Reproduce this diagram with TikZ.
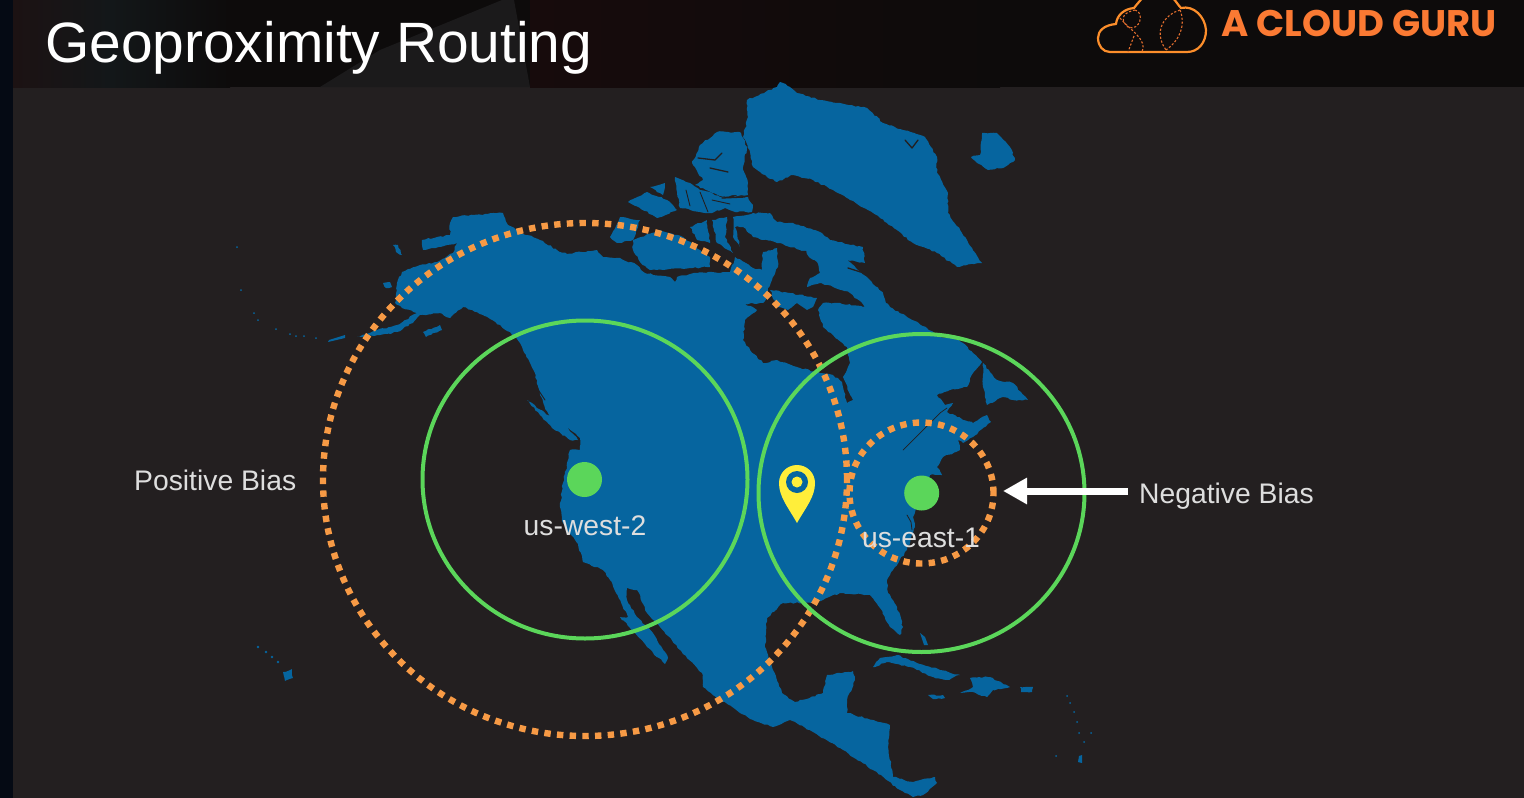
\documentclass[tikz,border=0pt]{standalone}
\usepackage{fontspec}
\setmainfont{Liberation Sans}
\newfontfamily\logofont{Poppins}
\usetikzlibrary{decorations.pathmorphing,arrows.meta}
\definecolor{bgdark}{HTML}{231F20}
\definecolor{band}{HTML}{0D0B0B}
\definecolor{bandblue}{HTML}{131719}
\definecolor{bandgrey}{HTML}{1B1A1B}
\definecolor{bandred}{HTML}{170B0C}
\definecolor{bandmaroon}{HTML}{1C1213}
\definecolor{edgenavy}{HTML}{050A14}
\definecolor{landblue}{HTML}{06659F}
\definecolor{ringgreen}{HTML}{5BD65A}
\definecolor{dotorange}{HTML}{F79A45}
\definecolor{logoorange}{HTML}{FB7A33}
\definecolor{pinyellow}{HTML}{FFEE3A}
\definecolor{labelgrey}{HTML}{DEDEDE}
\tikzset{
  land/.style={fill=landblue,decorate,decoration={random steps,segment length=3pt,amplitude=0.8pt}},
  speck/.style={fill=landblue},
  water/.style={draw=bgdark,line width=1.3pt,line cap=round,line join=round},
  greenring/.style={draw=ringgreen,line width=4pt},
  orangering/.style={draw=dotorange,line width=6.4pt,dash pattern=on 6.4pt off 6.3pt},
  regiondot/.style={circle,fill=ringgreen,minimum size=35pt,inner sep=0pt},
  label/.style={text=labelgrey,font=\fontsize{28.3}{30}\selectfont,anchor=base,inner sep=0pt},
  logoline/.style={draw=logoorange!85!yellow,line width=2.2pt},
  logodash/.style={draw=logoorange!90!black,line width=1.1pt,dash pattern=on 2.2pt off 1.8pt}
}
\begin{document}
\begin{tikzpicture}[x=1pt,y=-1pt]
\pgfmathsetseed{7}
\useasboundingbox (0,0) rectangle (1524,798);
% backdrop
\fill[bgdark] (0,0) rectangle (1524,798);
\fill[band] (0,0) rectangle (1524,87);
\shade[left color=bandmaroon,right color=bandblue] (13,0) rectangle (110,87);
\shade[left color=bandblue,right color=band] (110,0) rectangle (230,87);
\fill[bandgrey] (320,87) -- (380,50) -- (502,0) -- (514,0) -- (530,87) -- cycle;
\shade[left color=bandred,right color=band] (530,0) rectangle (1000,87);
\fill[edgenavy] (0,0) rectangle (13,798);
% mainland
\fill[land] (450,223) -- (453,217) -- (473,215) -- (503,213) -- (508,225) -- (520,232) -- (540,240) -- (557,250) -- (567,254) -- (597,250) -- (603,257) -- (620,258) -- (637,265) -- (645,273) -- (670,277) -- (675,282) -- (677,277) -- (697,273) -- (712,272) -- (720,273) -- (730,272) -- (735,257) -- (753,268) -- (762,270) -- (763,252) -- (777,248) -- (778,267) -- (772,280) -- (768,288) -- (767,298) -- (763,303) -- (745,304) -- (757,310) -- (745,320) -- (743,340) -- (750,350) -- (763,363) -- (777,360) -- (800,368) -- (820,373) -- (833,375) -- (842,382) -- (847,403) -- (853,400) -- (843,377) -- (850,363) -- (847,347) -- (833,335) -- (823,327) -- (818,310) -- (823,303) -- (840,303) -- (863,307) -- (887,303) -- (890,307) -- (907,317) -- (927,328) -- (940,337) -- (953,338) -- (963,343) -- (982,362) -- (973,373) -- (967,387) -- (950,390) -- (937,395) -- (945,405) -- (953,403) -- (947,412) -- (957,417) -- (973,423) -- (987,415) -- (991,422) -- (973,437) -- (963,443) -- (958,440) -- (960,450) -- (943,457) -- (937,467) -- (942,475) -- (930,475) -- (922,497) -- (920,500) -- (913,517) -- (915,527) -- (907,550) -- (893,570) -- (887,580) -- (888,593) -- (897,607) -- (903,627) -- (900,635) -- (890,627) -- (880,608) -- (870,595) -- (840,593) -- (823,600) -- (812,603) -- (783,603) -- (767,618) -- (765,647) -- (773,670) -- (782,693) -- (795,702) -- (823,693) -- (827,675) -- (853,671) -- (855,680) -- (847,700) -- (847,713) -- (890,725) -- (888,747) -- (893,777) -- (913,782) -- (935,777) -- (937,783) -- (923,795) -- (913,797) -- (900,790) -- (873,770) -- (840,748) -- (813,732) -- (790,720) -- (773,727) -- (753,720) -- (720,700) -- (703,687) -- (702,673) -- (680,650) -- (660,627) -- (647,613) -- (637,590) -- (627,588) -- (627,600) -- (637,617) -- (653,633) -- (668,658) -- (665,664) -- (647,647) -- (630,628) -- (620,617) -- (628,617) -- (610,580) -- (603,570) -- (583,562) -- (577,543) -- (563,523) -- (560,507) -- (563,483) -- (568,460) -- (570,450) -- (580,450) -- (580,438) -- (568,428) -- (553,425) -- (540,395) -- (535,373) -- (520,343) -- (510,332) -- (483,315) -- (472,310) -- (463,307) -- (450,318) -- (440,313) -- (420,315) -- (413,323) -- (397,332) -- (380,335) -- (363,337) -- (357,337) -- (377,330) -- (397,325) -- (417,313) -- (402,308) -- (395,303) -- (397,283) -- (402,272) -- (420,265) -- (437,262) -- (453,253) -- (457,243) -- (447,245) -- (423,250) -- (422,240) -- (437,237) -- (450,235) -- cycle;
% Greenland
\fill[land] (780,82) -- (777,87) -- (747,100) -- (748,117) -- (743,137) -- (750,152) -- (753,167) -- (767,177) -- (777,182) -- (793,175) -- (813,180) -- (833,190) -- (850,200) -- (873,213) -- (887,223) -- (913,243) -- (937,253) -- (957,267) -- (982,263) -- (967,240) -- (948,213) -- (948,193) -- (937,173) -- (937,157) -- (925,137) -- (903,130) -- (883,123) -- (867,108) -- (840,103) -- (820,100) -- (797,93) -- (783,83) -- cycle;
% Iceland
\fill[land] (982,133) -- (997,133) -- (1010,147) -- (1015,160) -- (1003,168) -- (988,170) -- (977,163) -- (971,157) -- (980,155) -- cycle;
% Arctic islands
\fill[land] (740,132) -- (717,132) -- (700,145) -- (692,163) -- (703,180) -- (695,185) -- (720,196) -- (748,195) -- (748,183) -- (743,167) -- (747,147) -- cycle;
\fill[land] (675,177) -- (690,183) -- (700,190) -- (712,193) -- (720,197) -- (748,197) -- (753,205) -- (752,212) -- (735,212) -- (725,208) -- (712,213) -- (700,212) -- (680,208) -- (677,192) -- cycle;
\fill[land] (628,202) -- (647,192) -- (667,200) -- (677,210) -- (657,218) -- (640,208) -- cycle;
\fill[land] (650,187) -- (665,183) -- (663,195) -- cycle;
\fill[land] (610,237) -- (620,217) -- (640,220) -- (633,240) -- (617,243) -- cycle;
\fill[land] (633,240) -- (660,230) -- (683,237) -- (700,250) -- (710,257) -- (710,267) -- (690,268) -- (663,270) -- (650,270) -- (640,262) -- (633,250) -- cycle;
\fill[land] (690,227) -- (707,220) -- (710,243) -- (697,240) -- cycle;
\fill[land] (712,220) -- (727,217) -- (725,237) -- (733,253) -- (717,243) -- cycle;
\fill[land] (733,217) -- (753,213) -- (770,213) -- (777,222) -- (793,223) -- (820,232) -- (830,240) -- (863,247) -- (865,263) -- (847,260) -- (867,277) -- (883,293) -- (890,313) -- (887,325) -- (873,313) -- (850,293) -- (833,287) -- (820,283) -- (807,287) -- (810,278) -- (820,273) -- (817,262) -- (800,250) -- (780,243) -- (763,240) -- (753,237) -- (743,227) -- (735,227) -- (740,247) -- (733,237) -- cycle;
\fill[land] (770,290) -- (790,293) -- (817,298) -- (813,307) -- (807,310) -- (797,303) -- (788,310) -- (777,307) -- cycle;
\fill[land] (983,363) -- (997,380) -- (1013,383) -- (1028,400) -- (1013,400) -- (1003,397) -- (987,405) -- (983,387) -- cycle;
% Alaska and Pacific islands
\fill[land] (423,332) -- (440,325) -- (442,330) -- (426,337) -- cycle;
\fill[land] (393,245) -- (398,245) -- (402,255) -- (396,252) -- cycle;
\fill[land] (383,283) -- (390,282) -- (392,287) -- (386,288) -- cycle;
\fill[speck] (329,340) -- (345,335) -- (345,338) -- (328,342) -- cycle;
\foreach \sx/\sy in {237/247,241/290,254/313,258/320,276/329,290/334,296/336,304/336,316/338}{\fill[speck] (\sx,\sy) circle[radius=1pt];}
\fill[land] (283,672) -- (292,669) -- (293,678) -- (285,681) -- cycle;
\foreach \sx/\sy in {258/647,266/652,272/657,278/662}{\fill[speck] (\sx,\sy) circle[radius=1.3pt];}
\fill[land] (527,400) -- (548,415) -- (568,428) -- (578,440) -- (570,440) -- (552,428) -- cycle;
% Caribbean
\fill[land] (873,667) -- (880,658) -- (897,655) -- (917,663) -- (940,670) -- (960,675) -- (947,680) -- (933,677) -- (910,667) -- (887,662) -- (875,667) -- cycle;
\fill[land] (960,693) -- (973,687) -- (970,678) -- (990,677) -- (1010,687) -- (993,690) -- (987,697) -- (973,692) -- cycle;
\fill[land] (928,695) -- (943,695) -- (945,698) -- (933,699) -- cycle;
\fill[land] (1020,687) -- (1033,687) -- (1032,692) -- (1021,692) -- cycle;
\fill[speck] (920,633) -- (925,637) -- (928,645) -- (924,645) -- cycle;
\fill[speck] (1079,756) -- (1082,755) -- (1082,763) -- (1078,762) -- cycle;
\foreach \sx/\sy in {1067/696,1070/703,1074/712,1077/722,1079/733,1091/733,1056/756,1084/742}{\fill[speck] (\sx,\sy) circle[radius=1pt];}
% inland water
\draw[water,line width=.7pt] (903,450) -- (920,433) -- (940,413) -- (947,408);
\draw[water,line width=.8pt] (907,515) -- (911,522) -- (912,530);
\draw[water] (698,158) -- (715,160) -- (722,153);
\draw[water] (710,168) -- (728,172);
\draw[water] (722,198) -- (745,197);
\draw[water,line width=.9pt] (700,192) -- (708,212);
\draw[water,line width=.9pt] (686,190) -- (690,206);
\draw[water,line width=.9pt] (712,200) -- (730,204);
\draw[water] (905,140) -- (912,148) -- (918,140);
\draw[water] (848,268) -- (870,275);
\draw[bgdark,fill=bgdark] (800,251) -- (806,251) -- (807,258) -- (800,256) -- cycle;
\draw[water,line width=.9pt] (535,385) -- (545,400);
% rings
\draw[orangering] (585,479.5) ellipse [x radius=262pt,y radius=256.5pt];
\draw[orangering] (921.5,493) ellipse [x radius=72pt,y radius=70.5pt];
\draw[greenring] (585,479.5) ellipse [x radius=162.5pt,y radius=159pt];
\draw[greenring] (921.5,493) ellipse [x radius=163pt,y radius=159pt];
\node[regiondot] (west) at (584.5,479.5) {};
\node[regiondot] (east) at (921.7,493) {};
% pin
\fill[pinyellow] (797,523) .. controls (788,507) and (779,497) .. (779,483) .. controls (779,473) and (787,465) .. (797,465) .. controls (807,465) and (815,473) .. (815,483) .. controls (815,497) and (806,507) .. (797,523) -- cycle;
\fill[landblue] (797,482) circle[radius=11pt];
\fill[pinyellow] (797,482) circle[radius=5.5pt];
% labels
\node[label] (uswest) at (585,535) {us-west-2};
\node[label] (useast) at (921,547) {us-east-1};
\node[label,anchor=base west] (pos) at (134,490) {Positive Bias};
\node[label,anchor=base west,inner xsep=11pt] (neg) at (1128,503) {Negative Bias};
\coordinate (tip) at (1003,491);
\draw[white,line width=7pt,-{Triangle[length=24pt,width=25pt]}] (neg.west |- tip) -- (tip);
% title
\node[text=white,anchor=base west,inner sep=0pt,font=\fontsize{56.9}{60}\selectfont] (title) at (45,62) {Geoproximity Routing};
% logo
\node[text=logoorange,anchor=base west,inner sep=0pt,font=\logofont\bfseries\fontsize{37}{40}\selectfont] (brand) at (1221,36) {A CLOUD GURU};
\draw[logoline,line join=round] (1110,52) .. controls (1103,52) and (1098,46) .. (1098,38) .. controls (1098,31) and (1104,25) .. (1116,24) .. controls (1117,15) and (1124,9) .. (1134,8) .. controls (1137,4) and (1140,1) .. (1143,-3) -- (1172,-3) .. controls (1176,1) and (1178,5) .. (1181,8) .. controls (1194,5) and (1205,17) .. (1206,30) .. controls (1206,43) and (1198,52) .. (1187,52) -- cycle;
\draw[logodash] (1135,10) .. controls (1145,12) and (1140,32) .. (1128,27) .. controls (1118,18) and (1125,12) .. (1135,10);
\draw[logodash] (1120,18) .. controls (1130,30) and (1148,40) .. (1142,52);
\draw[logodash] (1134,36) -- (1128,52);
\draw[logodash] (1180,10) .. controls (1166,14) and (1152,30) .. (1166,50);
\draw[logodash] (1180,10) .. controls (1186,25) and (1180,40) .. (1166,50);
\end{tikzpicture}
\end{document}
